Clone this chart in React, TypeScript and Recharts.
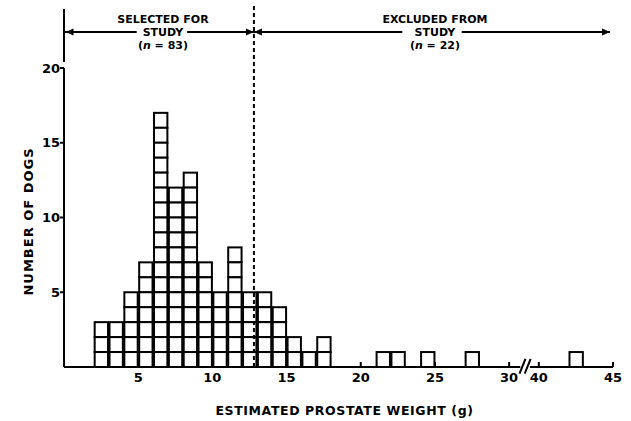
import { ComposedChart, Bar, XAxis, YAxis, ReferenceLine, ReferenceDot } from 'recharts'

// estimated prostate weight bins (g, lower edge) and number of dogs in each
const BIN_START = [2, 3, 4, 5, 6, 7, 8, 9, 10, 11, 12, 13, 14, 15, 16, 17, 21, 22, 24, 27, 42]
const DOG_COUNT = [3, 3, 5, 7, 17, 12, 13, 7, 5, 8, 5, 5, 4, 2, 1, 2, 1, 1, 1, 1, 1]
const X_TICKS = [5, 10, 15, 20, 25, 30, 40, 45]
const Y_TICKS = [5, 10, 15, 20]
const CUTOFF = 12.8
const GROUPS = [
  { title: 'SELECTED FOR', n: 83, center: 6.67 },
  { title: 'EXCLUDED FROM', n: 22, center: 25 },
]

// axis break: 30 -> 40 is squeezed into 2 units
const BREAK_LO = 30
const BREAK_HI = 40
const BREAK_GAP = 2
const toAxis = (w: number) => (w >= BREAK_HI ? w - BREAK_HI + BREAK_LO + BREAK_GAP : w)
const fromAxis = (v: number) => (v > BREAK_LO ? v - BREAK_LO - BREAK_GAP + BREAK_HI : v)

const W = 631
const H = 421
const MARGIN = { top: 68, right: 18, bottom: 24, left: 0 }
const Y_AXIS_W = 64
const X_AXIS_H = 30
const X_MAX = toAxis(45)
const PLOT_W = W - MARGIN.left - MARGIN.right - Y_AXIS_W
const FONT = 'DejaVu Sans'

const data = BIN_START.map((b, i) => ({ x: toAxis(b) + 0.5, count: DOG_COUNT[i] }))

const ARROW_Y = 22.41

function StackShape(props: any) {
  const { x, y, width, height, payload } = props
  const n = payload.count
  const h = height / n
  return (
    <g>
      {Array.from({ length: n }, (_, i) => (
        <rect key={i} x={x} y={y + i * h} width={width} height={h} fill="#fff" stroke="#000" strokeWidth={2} />
      ))}
    </g>
  )
}

function XTick(props: any) {
  const { x, y, payload } = props
  return (
    <g>
      <line x1={x} y1={y} x2={x} y2={y - 5} stroke="#000" strokeWidth={2} />
      <text x={x} y={y + 15} textAnchor="middle" fontFamily={FONT} fontWeight="bold" fontSize={13} fill="#000">
        {fromAxis(payload.value)}
      </text>
    </g>
  )
}

const arrowHead = (dir: 1 | -1) => (p: any) => {
  const { cx, cy } = p
  return <path d={`M${cx},${cy} L${cx - dir * 8},${cy - 3.5} L${cx - dir * 8},${cy + 3.5} Z`} fill="#000" />
}

const groupLabel = (title: string, n: number) => (p: any) => {
  const { cx, cy } = p
  const common = { textAnchor: 'middle' as const, fontFamily: FONT, fontWeight: 'bold', fontSize: 11, fill: '#000' }
  return (
    <g>
      <text x={cx} y={cy - 9} {...common}>{title}</text>
      <text x={cx} y={cy + 4} {...common}>STUDY</text>
      <text x={cx} y={cy + 17} {...common}>
        (<tspan fontStyle="italic">n</tspan> = {n})
      </text>
    </g>
  )
}

export default function App() {
  return (
    <div style={{ position: 'absolute', left: 0, top: 0, background: '#fff' }}>
      <ComposedChart width={W} height={H} data={data} margin={MARGIN}>
        <XAxis
          dataKey="x"
          type="number"
          domain={[0, X_MAX]}
          ticks={X_TICKS.map(toAxis)}
          tick={<XTick />}
          tickLine={false}
          tickSize={0}
          tickMargin={0}
          axisLine={false}
          height={X_AXIS_H}
          allowDataOverflow
          label={({ viewBox }: any) => (
            <text
              x={viewBox.x + viewBox.width / 2 + 6}
              y={viewBox.y + 48}
              textAnchor="middle"
              fontFamily={FONT}
              fontWeight="bold"
              fontSize={12.5}
              letterSpacing={0.6}
              fill="#000"
            >
              ESTIMATED PROSTATE WEIGHT (g)
            </text>
          )}
        />
        <YAxis
          type="number"
          domain={[0, 20]}
          ticks={Y_TICKS}
          width={Y_AXIS_W}
          axisLine={{ stroke: '#000', strokeWidth: 2 }}
          tickLine={{ stroke: '#000', strokeWidth: 2 }}
          tickSize={4}
          tickMargin={0}
          tick={{ fontFamily: FONT, fontWeight: 'bold', fontSize: 13, fill: '#000' }}
          label={({ viewBox }: any) => {
            const cx = 28
            const cy = viewBox.y + viewBox.height / 2 + 4
            return (
              <text
                x={cx}
                y={cy}
                transform={`rotate(-90 ${cx} ${cy})`}
                textAnchor="middle"
                dominantBaseline="central"
                fontFamily={FONT}
                fontWeight="bold"
                fontSize={13}
                letterSpacing={1}
                fill="#000"
              >
                NUMBER OF DOGS
              </text>
            )
          }}
        />
        <Bar dataKey="count" barSize={PLOT_W / X_MAX} shape={<StackShape />} isAnimationActive={false} />

        {/* x axis line with the break */}
        <ReferenceLine segment={[{ x: 0, y: 0 }, { x: 30.75, y: 0 }]} stroke="#000" strokeWidth={2} ifOverflow="visible" />
        <ReferenceLine segment={[{ x: 31.4, y: 0 }, { x: X_MAX, y: 0 }]} stroke="#000" strokeWidth={2} ifOverflow="visible" />
        <ReferenceLine segment={[{ x: 30.7, y: -0.45 }, { x: 31.1, y: 0.55 }]} stroke="#000" strokeWidth={2} ifOverflow="visible" />
        <ReferenceLine segment={[{ x: 31.05, y: -0.45 }, { x: 31.45, y: 0.55 }]} stroke="#000" strokeWidth={2} ifOverflow="visible" />

        {/* cutoff */}
        <ReferenceLine
          segment={[{ x: CUTOFF, y: 0 }, { x: CUTOFF, y: 24.2 }]}
          stroke="#000"
          strokeWidth={2}
          strokeDasharray="4 3"
          ifOverflow="visible"
        />

        {/* group arrows on top */}
        <ReferenceLine segment={[{ x: 0, y: 20.4 }, { x: 0, y: 23.95 }]} stroke="#000" strokeWidth={2} ifOverflow="visible" />
        <ReferenceLine segment={[{ x: 0, y: ARROW_Y }, { x: 4.9, y: ARROW_Y }]} stroke="#000" strokeWidth={2} ifOverflow="visible" />
        <ReferenceLine segment={[{ x: 8.3, y: ARROW_Y }, { x: CUTOFF, y: ARROW_Y }]} stroke="#000" strokeWidth={2} ifOverflow="visible" />
        <ReferenceLine segment={[{ x: CUTOFF, y: ARROW_Y }, { x: 22.8, y: ARROW_Y }]} stroke="#000" strokeWidth={2} ifOverflow="visible" />
        <ReferenceLine segment={[{ x: 26.8, y: ARROW_Y }, { x: 36.8, y: ARROW_Y }]} stroke="#000" strokeWidth={2} ifOverflow="visible" />
        <ReferenceDot x={0.1} y={ARROW_Y} shape={arrowHead(-1)} ifOverflow="visible" />
        <ReferenceDot x={CUTOFF} y={ARROW_Y} shape={arrowHead(1)} ifOverflow="visible" />
        <ReferenceDot x={CUTOFF} y={ARROW_Y} shape={arrowHead(-1)} ifOverflow="visible" />
        <ReferenceDot x={36.8} y={ARROW_Y} shape={arrowHead(1)} ifOverflow="visible" />
        {GROUPS.map((g) => (
          <ReferenceDot key={g.title} x={g.center} y={ARROW_Y} shape={groupLabel(g.title, g.n)} ifOverflow="visible" />
        ))}
      </ComposedChart>
    </div>
  )
}
